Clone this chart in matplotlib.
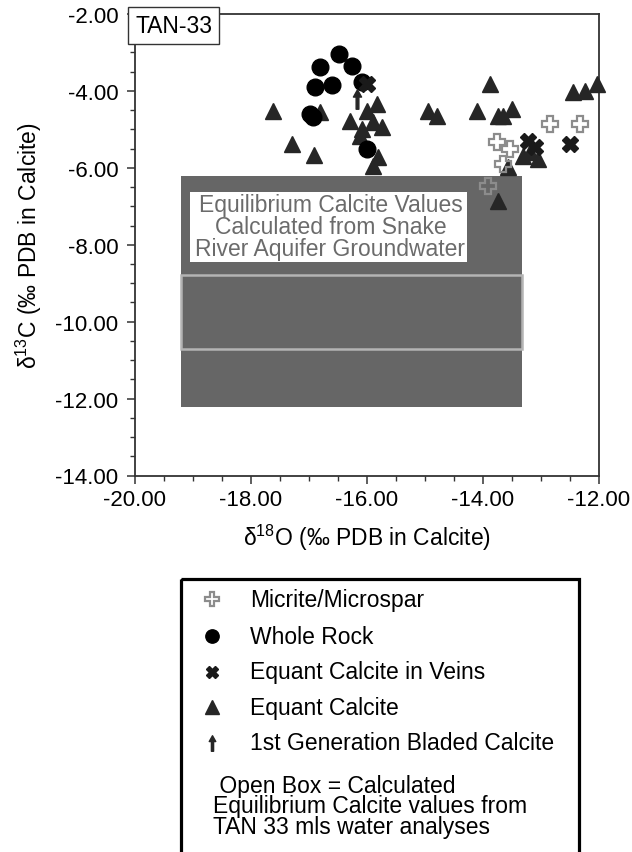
import matplotlib
matplotlib.use("Agg")
import matplotlib.pyplot as plt
from matplotlib.patches import Rectangle
from matplotlib.path import Path
from matplotlib.ticker import MultipleLocator, FormatStrFormatter

plt.rcParams['font.family'] = ['Liberation Sans', 'DejaVu Sans']
plt.rcParams['mathtext.fontset'] = 'custom'
plt.rcParams['mathtext.rm'] = 'Liberation Sans'

# -------------------------------------------
# data (d18O, d13C in permil PDB)
# -------------------------------------------
micrite_d18o = [-12.84, -12.33, -13.76, -13.53, -13.66, -13.91]
micrite_d13c = [-4.86, -4.86, -5.33, -5.51, -5.90, -6.47]

wholerock_d18o = [-16.48, -16.81, -16.26, -16.90, -16.60, -16.98, -16.93, -16.09, -16.00]
wholerock_d13c = [-3.04, -3.38, -3.35, -3.90, -3.85, -4.60, -4.68, -3.77, -5.51]

veins_d18o = [-16.00, -13.22, -13.10, -12.50]
veins_d13c = [-3.82, -5.30, -5.46, -5.38]

equant_d18o = [-17.62, -17.29, -16.91, -16.81, -16.29, -16.00, -15.83, -16.09,
               -15.90, -16.12, -15.90, -15.74, -15.81, -14.95, -14.79, -14.10,
               -13.88, -13.74, -13.66, -13.50, -12.45, -12.24, -12.03, -13.74,
               -13.31, -13.05, -13.57, -13.19]
equant_d13c = [-4.52, -5.38, -5.67, -4.55, -4.78, -4.52, -4.34, -4.99,
               -4.81, -5.17, -5.95, -4.94, -5.72, -4.52, -4.65, -4.52,
               -3.82, -4.65, -4.65, -4.47, -4.03, -4.00, -3.82, -6.86,
               -5.69, -5.77, -5.98, -5.59]

bladed_d18o = [-16.17]
bladed_d13c = [-4.21]

# equilibrium calcite ranges (x0, x1, y0, y1)
snake_box = [-19.2, -13.33, -12.22, -6.21]
tan33_box = [-19.2, -13.33, -10.71, -8.79]

legend_labels = ["Micrite/Microspar", "Whole Rock", "Equant Calcite in Veins",
                 "Equant Calcite", "1st Generation Bladed Calcite"]
note_text = " Open Box = Calculated\nEquilibrium Calcite values from\nTAN 33 mls water analyses"
box_text = "Equilibrium Calcite Values\nCalculated from Snake\nRiver Aquifer Groundwater"

# arrow marker for the bladed calcite
arrow = Path([(-0.14, -1), (0.14, -1), (0.14, 0.25), (0.42, 0.25), (0, 1),
              (-0.42, 0.25), (-0.14, 0.25), (-0.14, -1)],
             [Path.MOVETO] + [Path.LINETO] * 6 + [Path.CLOSEPOLY])

styles = [
    dict(marker='P', ms=12, mfc='none', mec='#8c8c8c', mew=1.6),
    dict(marker='o', ms=12, mfc='black', mec='black'),
    dict(marker='X', ms=11, mfc='#1a1a1a', mec='#1a1a1a'),
    dict(marker='^', ms=12, mfc='#262626', mec='#262626'),
    dict(marker=arrow, ms=14, mfc='#262626', mec='#262626'),
]

fig = plt.figure(figsize=(6.32, 8.53), dpi=100)
ax = fig.add_axes([135 / 632, 1 - 476.5 / 853, 464 / 632, 461.5 / 853])

# equilibrium boxes
x0, x1, y0, y1 = snake_box
ax.add_patch(Rectangle((x0, y0), x1 - x0, y1 - y0, facecolor='#666666',
                       edgecolor='none', zorder=1))
x0, x1, y0, y1 = tan33_box
ax.add_patch(Rectangle((x0, y0), x1 - x0, y1 - y0, facecolor='none',
                       edgecolor='#b4b4b4', lw=1.8, zorder=1.5))
ax.add_patch(Rectangle((-19.05, -8.45), 4.78, 1.82, facecolor='white',
                       edgecolor='none', zorder=1.6))
ax.text(-16.63, -7.53, box_text, ha='center', va='center', fontsize=16.5,
        color='#6b6b6b', linespacing=0.95, zorder=1.7)

series = [(micrite_d18o, micrite_d13c), (wholerock_d18o, wholerock_d13c),
          (veins_d18o, veins_d13c), (equant_d18o, equant_d13c),
          (bladed_d18o, bladed_d13c)]
order = [3, 1, 2, 0, 4]
for i in order:
    xs, ys = series[i]
    ax.plot(xs, ys, ls='none', clip_on=False, zorder=3, **styles[i])

ax.set_xlim(-20, -12)
ax.set_ylim(-14, -2)
ax.xaxis.set_major_locator(MultipleLocator(2))
ax.xaxis.set_minor_locator(MultipleLocator(0.5))
ax.yaxis.set_major_locator(MultipleLocator(2))
ax.yaxis.set_minor_locator(MultipleLocator(0.5))
ax.xaxis.set_major_formatter(FormatStrFormatter('%.2f'))
ax.yaxis.set_major_formatter(FormatStrFormatter('%.2f'))
ax.tick_params(which='both', direction='out', labelsize=16, color='#333333')
ax.tick_params(which='major', length=6, width=1.1)
ax.tick_params(which='minor', length=3.5, width=1.0)
ax.tick_params(axis='y', pad=6)
ax.tick_params(axis='x', pad=4)
for sp in ax.spines.values():
    sp.set_linewidth(1.3)
    sp.set_color('#333333')

ax.set_xlabel('δ$^{\\mathrm{18}}$O (‰ PDB in Calcite)', fontsize=16.5, labelpad=8)
ax.set_ylabel('δ$^{\\mathrm{13}}$C (‰ PDB in Calcite)', fontsize=16.5, labelpad=8)

ax.text(0.0, 1.0, 'TAN-33', transform=ax.transAxes, ha='left', va='top',
        fontsize=16.5, zorder=5,
        bbox=dict(boxstyle='square,pad=0.3', facecolor='white',
                  edgecolor='#333333', lw=1.0))

# -------------------------------------------
# key below the plot, in pixel coordinates
# -------------------------------------------
key = fig.add_axes([0, 0, 1, 1])
key.set_xlim(0, 632)
key.set_ylim(853, 0)
key.axis('off')
key.patch.set_alpha(0)
key.add_patch(Rectangle((181, 580), 398, 320, facecolor='none',
                        edgecolor='black', lw=2.3))
rows = [600, 637, 673, 708, 744]
for i, lab in enumerate(legend_labels):
    st = dict(styles[i])
    st['ms'] = st['ms'] * 0.8
    key.plot([212], [rows[i]], ls='none', **st)
    key.text(250, rows[i], lab, va='center', ha='left', fontsize=16.5)
key.text(213, 807, note_text, va='center', ha='left', fontsize=16.5,
         linespacing=0.88)

fig.savefig('out.png', dpi=100)
